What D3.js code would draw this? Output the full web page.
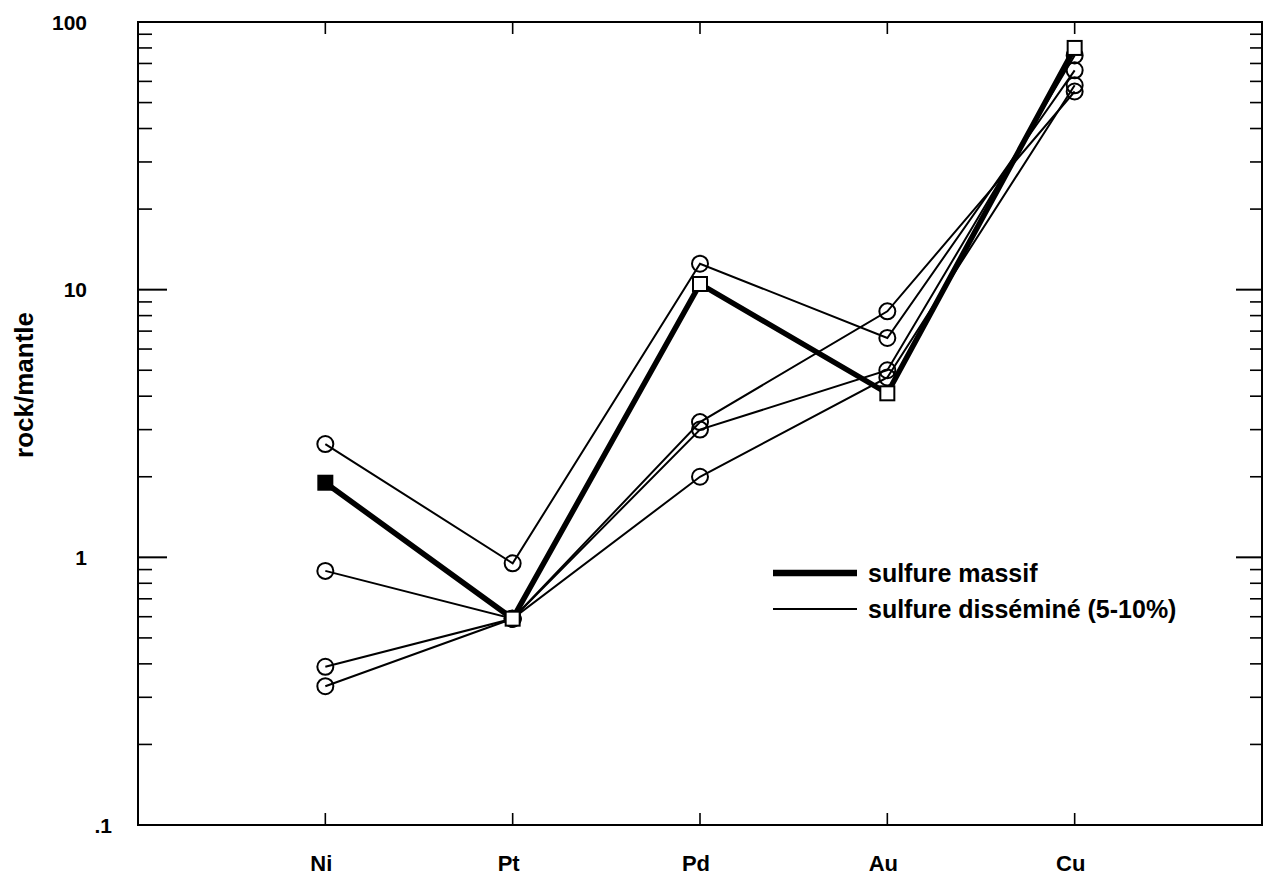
<!DOCTYPE html>
<html>
<head>
<meta charset="utf-8">
<script src="https://cdn.jsdelivr.net/npm/d3@7"></script>
<style>
  body { margin: 0; background: #fff; }
  svg { display: block; }
  text { font-family: "Liberation Sans", Arial, sans-serif; fill: #000; }
</style>
</head>
<body>
<div id="chart"></div>
<script>
var elements = ["Ni", "Pt", "Pd", "Au", "Cu"];

// sulfure massif
var massif = [1.9, 0.59, 10.5, 4.1, 80];

// sulfure disséminé (5-10%)
var diss1 = [2.65, 0.95, 12.5, 6.6, 66];
var diss2 = [0.89, 0.59, 3.2, 8.3, 55];
var diss3 = [0.39, 0.59, 3.0, 5.0, 75];
var diss4 = [0.33, 0.59, 2.0, 4.7, 58];
var dissemine = [diss1, diss2, diss3, diss4];

var yTicks = [0.1, 1, 10, 100];
var yTickLabels = [".1", "1", "10", "100"];
var yTitle = "rock/mantle";
var legendLabels = ["sulfure massif", "sulfure disséminé (5-10%)"];

var W = 1266, H = 878;
var pL = 138, pR = 1262, pT = 22, pB = 825;

var svg = d3.select("#chart").append("svg")
  .attr("width", W)
  .attr("height", H);

// x: categories 0..4, frame spans -1..5
var x = d3.scaleLinear().domain([-1, 5]).range([pL, pR]);
var y = d3.scaleLog().domain([0.1, 100]).range([pB, pT]);

// minor ticks 2..9 in every decade
var minor = [];
[0.1, 1, 10].forEach(function (d) {
  for (var k = 2; k <= 9; k++) minor.push(d * k);
});

var axisG = svg.append("g").attr("stroke", "#000").attr("fill", "none");

// left + right ticks (inward)
axisG.selectAll("line.ymaj")
  .data(yTicks.slice(1, 3))
  .enter().append("line")
  .attr("x1", pL).attr("x2", pL + 29)
  .attr("y1", function (d) { return y(d); })
  .attr("y2", function (d) { return y(d); })
  .attr("stroke-width", 2);
axisG.selectAll("line.ymin")
  .data(minor)
  .enter().append("line")
  .attr("x1", pL).attr("x2", pL + 14)
  .attr("y1", function (d) { return y(d); })
  .attr("y2", function (d) { return y(d); })
  .attr("stroke-width", 1.6);
axisG.selectAll("line.ymajr")
  .data(yTicks.slice(1, 3))
  .enter().append("line")
  .attr("x1", pR).attr("x2", pR - 26)
  .attr("y1", function (d) { return y(d); })
  .attr("y2", function (d) { return y(d); })
  .attr("stroke-width", 2);
axisG.selectAll("line.yminr")
  .data(minor)
  .enter().append("line")
  .attr("x1", pR).attr("x2", pR - 12)
  .attr("y1", function (d) { return y(d); })
  .attr("y2", function (d) { return y(d); })
  .attr("stroke-width", 1.6);

// bottom + top category ticks
axisG.selectAll("line.xb")
  .data(elements)
  .enter().append("line")
  .attr("x1", function (d, i) { return x(i); })
  .attr("x2", function (d, i) { return x(i); })
  .attr("y1", pB).attr("y2", pB - 12)
  .attr("stroke-width", 1.6);
axisG.selectAll("line.xt")
  .data(elements)
  .enter().append("line")
  .attr("x1", function (d, i) { return x(i); })
  .attr("x2", function (d, i) { return x(i); })
  .attr("y1", pT).attr("y2", pT + 12)
  .attr("stroke-width", 1.6);

// frame
svg.append("rect")
  .attr("x", pL).attr("y", pT)
  .attr("width", pR - pL).attr("height", pB - pT)
  .attr("fill", "none")
  .attr("stroke", "#000")
  .attr("stroke-width", 2);

// y tick labels
svg.selectAll("text.ylab")
  .data(yTicks)
  .enter().append("text")
  .attr("x", 87)
  .attr("dx", function (d, i) { return yTickLabels[i].charAt(0) == "." ? 25 : 0; })
  .attr("y", function (d) { return y(d); })
  .attr("dy", "0.36em")
  .attr("text-anchor", "end")
  .attr("font-size", "21px")
  .attr("font-weight", "bold")
  .text(function (d, i) { return yTickLabels[i]; });

// y title
svg.append("text")
  .attr("transform", "translate(33," + 385 + ") rotate(-90)")
  .attr("text-anchor", "middle")
  .attr("font-size", "26px")
  .attr("font-weight", "bold")
  .text(yTitle);

// x labels
svg.selectAll("text.xlab")
  .data(elements)
  .enter().append("text")
  .attr("x", function (d, i) { return x(i) - 4; })
  .attr("y", 871)
  .attr("text-anchor", "middle")
  .attr("font-size", "22px")
  .attr("font-weight", "bold")
  .text(function (d) { return d; });

var line = d3.line()
  .x(function (d, i) { return x(i); })
  .y(function (d) { return y(d); });

// disseminated: thin lines + open circles
dissemine.forEach(function (s) {
  svg.append("path")
    .attr("d", line(s))
    .attr("fill", "none")
    .attr("stroke", "#000")
    .attr("stroke-width", 2);
});
dissemine.forEach(function (s) {
  svg.append("g").selectAll("circle")
    .data(s)
    .enter().append("circle")
    .attr("cx", function (d, i) { return x(i); })
    .attr("cy", function (d) { return y(d); })
    .attr("r", 8)
    .attr("fill", "none")
    .attr("stroke", "#000")
    .attr("stroke-width", 2);
});

// massive: thick line + squares (first one filled)
svg.append("path")
  .attr("d", line(massif))
  .attr("fill", "none")
  .attr("stroke", "#000")
  .attr("stroke-width", 5.5);
svg.append("g").selectAll("rect")
  .data(massif)
  .enter().append("rect")
  .attr("x", function (d, i) { return x(i) - 7; })
  .attr("y", function (d) { return y(d) - 7; })
  .attr("width", 14)
  .attr("height", 14)
  .attr("fill", function (d, i) { return i == 0 ? "#000" : "#fff"; })
  .attr("stroke", "#000")
  .attr("stroke-width", 2);

// legend
var leg = svg.append("g");
leg.selectAll("line")
  .data(legendLabels)
  .enter().append("line")
  .attr("x1", 773).attr("x2", 857)
  .attr("y1", function (d, i) { return 573 + i * 36; })
  .attr("y2", function (d, i) { return 573 + i * 36; })
  .attr("stroke", "#000")
  .attr("stroke-width", function (d, i) { return i == 0 ? 6.5 : 2; });
leg.selectAll("text")
  .data(legendLabels)
  .enter().append("text")
  .attr("x", 868)
  .attr("y", function (d, i) { return 573 + i * 36; })
  .attr("dy", "0.36em")
  .attr("font-size", "25px")
  .attr("font-weight", "bold")
  .text(function (d) { return d; });
</script>
</body>
</html>
